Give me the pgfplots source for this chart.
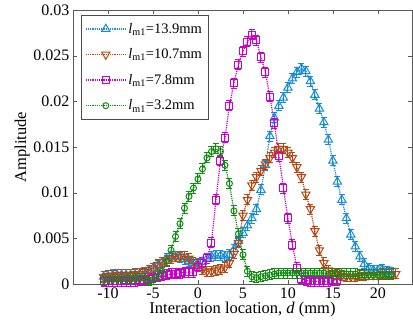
\documentclass[border=0pt]{standalone}
\usepackage{fontspec}
\setmainfont{Liberation Serif}
\usepackage{pgfplots}
\usepackage{pgfplotstable}
\pgfplotsset{compat=1.18}
\definecolor{cblue}{RGB}{22,140,214}
\definecolor{cbrown}{RGB}{180,72,18}
\definecolor{cmag}{RGB}{204,0,204}
\definecolor{cgreen}{RGB}{16,140,16}

\pgfdeclareplotmark{ebar}{%
  \pgfpathmoveto{\pgfqpoint{0pt}{-\pgfplotmarksize}}%
  \pgfpathlineto{\pgfqpoint{0pt}{\pgfplotmarksize}}%
  \pgfpathmoveto{\pgfqpoint{-3pt}{\pgfplotmarksize}}%
  \pgfpathlineto{\pgfqpoint{3pt}{\pgfplotmarksize}}%
  \pgfpathmoveto{\pgfqpoint{-3pt}{-\pgfplotmarksize}}%
  \pgfpathlineto{\pgfqpoint{3pt}{-\pgfplotmarksize}}%
  \pgfusepathqstroke}

\pgfplotstableread{
x y
-10.5 0.0008
-10 0.0009
-9.5 0.0010
-9 0.0010
-8.5 0.0010
-8 0.0010
-7.5 0.0010
-7 0.0010
-6.5 0.0011
-6 0.0012
-5.5 0.0015
-5 0.0017
-4.5 0.0020
-4 0.0024
-3.5 0.0028
-3 0.0030
-2.5 0.0030
-2 0.0029
-1.5 0.0027
-1 0.0025
-0.5 0.0023
0 0.0022
0.5 0.0024
1 0.0028
1.5 0.0030
2 0.0031
2.5 0.0031
3 0.0030
3.5 0.0032
4 0.0038
4.5 0.0047
5 0.0056
5.5 0.0064
6 0.0072
6.5 0.0082
7 0.0103
7.5 0.0130
8 0.0162
8.5 0.0182
9 0.0195
9.5 0.0204
10 0.0215
10.5 0.0225
11 0.0232
11.5 0.0236
12 0.0233
12.5 0.0222
13 0.0207
13.5 0.0192
14 0.0177
14.5 0.0158
15 0.0135
15.5 0.0112
16 0.0092
16.5 0.0072
17 0.0054
17.5 0.0041
18 0.0030
18.5 0.0022
19 0.0017
19.5 0.0015
20 0.0015
20.5 0.0016
21 0.0014
21.5 0.0013
}\dataA

\pgfplotstableread{
x y
-10.5 0.0008
-10 0.0009
-9.5 0.0009
-9 0.0010
-8.5 0.0010
-8 0.0010
-7.5 0.0010
-7 0.0011
-6.5 0.0011
-6 0.0013
-5.5 0.0015
-5 0.0017
-4.5 0.0021
-4 0.0024
-3.5 0.0026
-3 0.0028
-2.5 0.0030
-2 0.0030
-1.5 0.0030
-1 0.0028
-0.5 0.0024
0 0.0019
0.5 0.0016
1 0.0014
1.5 0.0014
2 0.0015
2.5 0.0016
3 0.0018
3.5 0.0023
4 0.0033
4.5 0.0045
5 0.0075
5.5 0.0092
6 0.0108
6.5 0.0117
7 0.0124
7.5 0.0131
8 0.0138
8.5 0.0144
9 0.0148
9.5 0.0148
10 0.0144
10.5 0.0138
11 0.0128
11.5 0.0117
12 0.0098
12.5 0.0082
13 0.0058
13.5 0.0037
14 0.0023
14.5 0.0015
15 0.0012
15.5 0.0010
16 0.0009
16.5 0.0008
17 0.0008
17.5 0.0008
18 0.0009
18.5 0.0009
19 0.0010
19.5 0.0010
20 0.0010
20.5 0.0011
21 0.0011
21.5 0.0011
22 0.0011
}\dataB

\pgfplotstableread{
x y
-10.5 0.0003
-10 0.0003
-9.5 0.0003
-9 0.0003
-8.5 0.0003
-8 0.0003
-7.5 0.0003
-7 0.0003
-6.5 0.0004
-6 0.0004
-5.5 0.0006
-5 0.0007
-4.5 0.0008
-4 0.0009
-3.5 0.0010
-3 0.0011
-2.5 0.0011
-2 0.0012
-1.5 0.0013
-1 0.0013
-0.5 0.0013
0 0.0019
0.5 0.0023
1 0.0028
1.5 0.0045
2 0.0092
2.5 0.0135
3 0.0160
3.5 0.0195
4 0.0220
4.5 0.0240
5 0.0255
5.5 0.0265
6 0.0273
6.5 0.0267
7 0.0248
7.5 0.0232
8 0.0205
8.5 0.0176
9 0.0140
9.5 0.0105
10 0.0072
10.5 0.0043
11 0.0018
11.5 0.0006
12 0.0004
12.5 0.0003
13 0.0003
13.5 0.0003
14 0.0003
14.5 0.0003
15 0.0004
15.5 0.0004
}\dataC

\pgfplotstableread{
x y
-10.5 0.0004
-10 0.0005
-9.5 0.0005
-9 0.0005
-8.5 0.0005
-8 0.0006
-7.5 0.0006
-7 0.0006
-6.5 0.0006
-6 0.0006
-5.5 0.0004
-5 0.0005
-4.5 0.0008
-4 0.0014
-3.5 0.0025
-3 0.0037
-2.5 0.0052
-2 0.0066
-1.5 0.0083
-1 0.0096
-0.5 0.0105
0 0.0115
0.5 0.0126
1 0.0138
1.5 0.0145
2 0.0148
2.5 0.0145
3 0.0130
3.5 0.0110
4 0.0080
4.5 0.0055
5 0.0032
5.5 0.0014
6 0.0008
6.5 0.0007
7 0.0008
7.5 0.0009
8 0.0010
8.5 0.0011
9 0.0012
9.5 0.0012
10 0.0012
10.5 0.0012
11 0.0012
11.5 0.0012
12 0.0012
12.5 0.0012
13 0.0012
13.5 0.0012
14 0.0012
14.5 0.0011
15 0.0011
15.5 0.0011
16 0.0011
16.5 0.0011
17 0.0011
17.5 0.0011
18 0.0010
18.5 0.0010
19 0.0010
19.5 0.0010
20 0.0010
20.5 0.0010
21 0.0010
21.5 0.0010
}\dataD

\begin{document}
\begin{tikzpicture}
\begin{axis}[
  scale only axis,
  width=339pt, height=274pt,
  xmin=-13.9, xmax=23.8,
  ymin=0, ymax=0.03,
  xtick={-10,-5,0,5,10,15,20},
  ytick={0,0.005,0.01,0.015,0.02,0.025,0.03},
  scaled y ticks=false,
  yticklabel style={/pgf/number format/fixed,/pgf/number format/precision=3},
  /pgf/number format/assume math mode=true,
  tick label style={font=\fontsize{16}{19}\selectfont},
  label style={font=\fontsize{16.5}{19}\selectfont},
  xlabel={Interaction location, \textit{d} (mm)},
  ylabel={Amplitude},
  xlabel style={yshift=3pt},
  ylabel style={yshift=-3pt},
  axis line style={black!65},
  tick style={black!65},
  major tick length=4pt,
  tick pos=both,
  legend cell align=left,
  legend style={at={(rel axis cs:0,1)}, anchor=north west, xshift=8pt, yshift=-5pt,
    font=\fontsize{14.5}{17}\selectfont, row sep=10pt, draw=black!70,
    inner xsep=4pt, inner ysep=6pt},
  legend image code/.code={
    \draw[mark repeat=2,mark phase=2] plot coordinates {(0pt,0pt) (20pt,0pt) (40pt,0pt)};},
  ebar/.style={color=#1, only marks, mark=ebar, mark size=5pt,
    mark options={solid, line width=1pt}, forget plot},
  mainplot/.style={densely dotted, line width=1.2pt},
]
\addplot[ebar=cblue] table {\dataA};
\addplot[ebar=cbrown] table {\dataB};
\addplot[ebar=cmag] table {\dataC};
\addplot[ebar=cgreen] table {\dataD};

\addplot[mainplot, color=cblue, mark=triangle, mark size=4.8pt,
  mark options={solid, line width=1pt, fill=white}] table {\dataA};
\addlegendentry{\textit{l}\textsubscript{m1}=13.9mm\hspace{22pt}}
\addplot[mainplot, color=cbrown, mark=triangle, mark size=4.8pt,
  mark options={solid, line width=1pt, fill=white, rotate=180}] table {\dataB};
\addlegendentry{\textit{l}\textsubscript{m1}=10.7mm}
\addplot[mainplot, color=cmag, mark=square, mark size=3.5pt,
  mark options={solid, line width=1pt, fill=white}] table {\dataC};
\addlegendentry{\textit{l}\textsubscript{m1}=7.8mm}
\addplot[mainplot, color=cgreen, mark=o, mark size=3pt,
  mark options={solid, line width=1pt, fill=white}] table {\dataD};
\addlegendentry{\textit{l}\textsubscript{m1}=3.2mm}
\end{axis}
\path (current axis.south west) ++(-73pt,-45pt);
\path (current axis.north east) ++(1pt,10pt);
\end{tikzpicture}
\end{document}
